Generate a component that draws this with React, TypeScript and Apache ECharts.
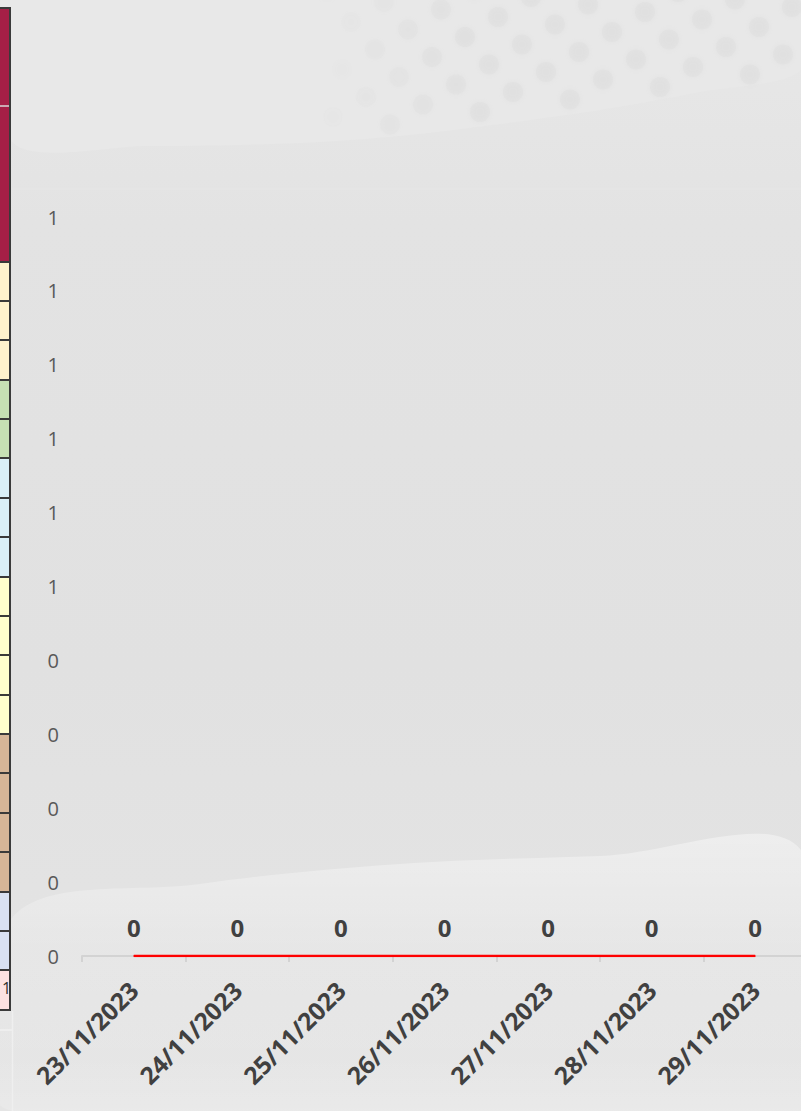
import React, { useEffect, useRef } from 'react';
import * as echarts from 'echarts';

// ---- chart data ----
const categories = ['23/11/2023', '24/11/2023', '25/11/2023', '26/11/2023', '27/11/2023', '28/11/2023', '29/11/2023'];
const values = [0, 0, 0, 0, 0, 0, 0];
const yMin = 0;
const yMax = 1;
const yInterval = 0.1;

// ---- decoration (spreadsheet cells visible at the left edge) ----
const stripColors = [
  '#A51F46', '#FFF2CC', '#FFF2CC', '#FFF2CC', '#C6E0B4', '#C6E0B4',
  '#DAF0F7', '#DAF0F7', '#DAF0F7', '#FFFFCC', '#FFFFCC', '#FFFFCC', '#FFFFCC',
  '#D6B597', '#D6B597', '#D6B597', '#D6B597', '#D9E1F2', '#D9E1F2', '#FDE2E2',
];
const stripEdges = [8, 262, 301, 340, 380, 419, 458, 498, 537, 577, 616, 655, 695, 734, 773, 813, 852, 892, 931, 970, 1010];

const FONT = "'Open Sans', 'Noto Sans', sans-serif";

function buildGraphics() {
  const els: any[] = [];
  els.push({
    type: 'rect', z: -30, silent: true,
    shape: { x: 0, y: 0, width: 801, height: 1111 },
    style: {
      fill: new echarts.graphic.LinearGradient(0, 0, 0, 1, [
        { offset: 0, color: '#e8e8e8' },
        { offset: 0.2, color: '#e3e3e3' },
        { offset: 0.6, color: '#e1e1e1' },
        { offset: 1, color: '#e5e5e5' },
      ]),
    },
  });
  els.push({
    type: 'polygon', z: -29, silent: true,
    shape: {
      smooth: 0.3,
      points: [[12, 0], [801, 0], [801, 70], [700, 92], [600, 110], [500, 124], [400, 136], [300, 143], [150, 146], [12, 142]],
    },
    style: { fill: '#e8e8e8' },
  });
  els.push({
    type: 'line', z: -28, silent: true,
    shape: { x1: 12, y1: 189, x2: 801, y2: 189 },
    style: { stroke: '#e5e5e5', lineWidth: 2 },
  });
  for (let r = -4; r <= 10; r++) {
    for (let k = 0; k <= 14; k++) {
      const x = 333 + r * 57 + k * 33;
      const y = 117 + r * 7.5 - k * 20;
      const boundary = 140 - (x - 300) * 0.12;
      if (x < 325 || x > 815 || y < -12 || y > boundary - 4) continue;
      const fade = Math.min(1, (x - 310) / 160);
      els.push({
        type: 'circle', z: -27, silent: true,
        shape: { cx: x, cy: y, r: 10 },
        style: { fill: '#d9d9d9', opacity: 0.3 * fade, shadowBlur: 6, shadowColor: 'rgba(210,210,210,0.8)' },
      });
    }
  }
  els.push({
    type: 'polygon', z: -26, silent: true,
    shape: {
      smooth: 0.35,
      points: [[12, 918], [200, 884], [400, 864], [600, 856], [801, 850], [801, 1111], [12, 1111]],
    },
    style: {
      fill: new echarts.graphic.LinearGradient(0, 0, 0, 1, [
        { offset: 0, color: 'rgba(255,255,255,0.4)' },
        { offset: 0.35, color: 'rgba(255,255,255,0.12)' },
        { offset: 0.7, color: 'rgba(255,255,255,0.05)' },
        { offset: 1, color: 'rgba(255,255,255,0.3)' },
      ]),
    },
  });
  for (let i = 0; i < stripColors.length; i++) {
    els.push({
      type: 'rect', z: -20, silent: true,
      shape: { x: 0, y: stripEdges[i], width: 10, height: stripEdges[i + 1] - stripEdges[i] },
      style: { fill: stripColors[i] },
    });
  }
  els.push({
    type: 'line', z: -19, silent: true,
    shape: { x1: 0, y1: 106, x2: 10, y2: 106 },
    style: { stroke: '#d8d8d8', lineWidth: 1.5 },
  });
  els.push({
    type: 'text', z: -19, silent: true,
    style: { text: '1', x: 2, y: 980, fill: '#333333', font: `16px ${FONT}` },
  });
  for (let i = 0; i < stripEdges.length; i++) {
    els.push({
      type: 'line', z: -18, silent: true,
      shape: { x1: 0, y1: stripEdges[i], x2: 11, y2: stripEdges[i] },
      style: { stroke: '#3a3a3a', lineWidth: 2 },
    });
  }
  els.push({
    type: 'line', z: -18, silent: true,
    shape: { x1: 10, y1: 7, x2: 10, y2: 1011 },
    style: { stroke: '#3a3a3a', lineWidth: 2 },
  });
  els.push({
    type: 'line', z: -18, silent: true,
    shape: { x1: 0, y1: 1030, x2: 12, y2: 1030 },
    style: { stroke: '#f0f0f0', lineWidth: 1.5 },
  });
  els.push({
    type: 'line', z: -18, silent: true,
    shape: { x1: 12.5, y1: 1011, x2: 12.5, y2: 1111 },
    style: { stroke: '#efefef', lineWidth: 1.5 },
  });
  return els;
}

export default function App() {
  const ref = useRef<HTMLDivElement>(null);
  useEffect(() => {
    document.body.style.margin = '0';
    const chart = echarts.init(ref.current!, null, { renderer: 'svg' });
    chart.setOption({
      animation: false,
      backgroundColor: '#e3e3e3',
      graphic: buildGraphics(),
      grid: { left: 82, width: 725, top: 217, height: 739, containLabel: false, outerBoundsMode: 'none' },
      xAxis: {
        type: 'category',
        data: categories,
        boundaryGap: true,
        axisLine: { show: true, lineStyle: { color: '#d3d3d3', width: 2 } },
        axisTick: { show: true, length: 6, alignWithLabel: false, lineStyle: { color: '#d3d3d3', width: 2 } },
        axisLabel: {
          rotate: 45,
          interval: 0,
          margin: 30,
          align: 'right',
          verticalAlign: 'middle',
          color: '#404040',
          fontWeight: 'bold',
          fontSize: 24.5,
          fontFamily: FONT,
        },
        splitLine: { show: false },
      },
      yAxis: {
        type: 'value',
        min: yMin,
        max: yMax,
        interval: yInterval,
        axisLine: { show: false },
        axisTick: { show: false },
        splitLine: { show: false },
        axisLabel: {
          margin: 23,
          color: '#595959',
          fontSize: 20,
          fontFamily: FONT,
          formatter: (v: number) => String(Math.round(v + 1e-9)),
        },
      },
      series: [
        {
          type: 'line',
          data: values,
          symbol: 'circle',
          symbolSize: 1,
          itemStyle: { color: '#FF0000' },
          lineStyle: { color: '#FF0000', width: 2.5 },
          label: {
            show: true,
            position: 'top',
            distance: 16,
            color: '#404040',
            fontWeight: 'bold',
            fontSize: 24,
            fontFamily: FONT,
          },
        },
      ],
    });
    return () => chart.dispose();
  }, []);
  return <div ref={ref} style={{ width: 801, height: 1111 }} />;
}
